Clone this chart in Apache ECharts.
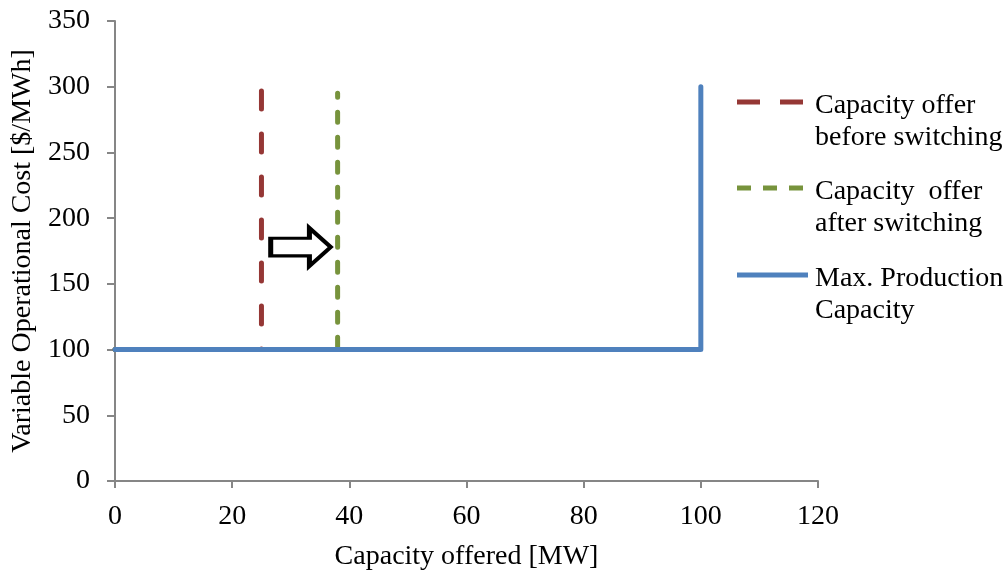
<!DOCTYPE html>
<html><head><meta charset="utf-8">
<script src="https://cdn.jsdelivr.net/npm/echarts@6/dist/echarts.min.js"></script>
<style>html,body{margin:0;padding:0;background:#fff}#c{width:1006px;height:574px}</style>
</head><body><div id="c"></div>
<script>
const xTicks = [0, 20, 40, 60, 80, 100, 120];
const yTicks = [0, 50, 100, 150, 200, 250, 300, 350];
const seriesNames = ['Capacity offer\nbefore switching', 'Capacity  offer\nafter switching', 'Max. Production\nCapacity'];
const beforeSwitching = [[0, 100], [25, 100], [25, 300]];
const afterSwitching = [[0, 100], [38, 100], [38, 295]];
const maxProduction = [[0, 100], [100, 100], [100, 300]];
const arrowPos = [31.7, 178];

const font = 'Liberation Serif';
const legendIcons = [
  'path://M0,0H23V5H0Z M43,0H66V5H43Z M73,0L73,5',
  'path://M0,0H14V5H0Z M26,0H40V5H26Z M52,0H66V5H52Z M73,0L73,5',
  'path://M0,0H71V5H0Z M73,0L73,5'
];
const legendTops = [45, 131, 218];
const chart = echarts.init(document.getElementById('c'));
const legends = seriesNames.map((n, i) => ({
  orient: 'vertical', left: 732, top: legendTops[i], itemWidth: 73, itemHeight: 5, itemGap: 0,
  itemStyle: { borderWidth: 0 },
  data: [{ name: n, icon: legendIcons[i] }],
  formatter: s => '{b| }\n' + s.split('\n').map(l => '{a|' + l + '}').join('\n'),
  textStyle: {
    fontFamily: font, fontSize: 28, color: '#000', lineHeight: 32,
    rich: {
      a: { fontFamily: font, fontSize: 28, color: '#000', lineHeight: 32 },
      b: { fontFamily: font, fontSize: 28, color: '#000', lineHeight: 40 }
    }
  }
}));
chart.setOption({
  animation: false,
  grid: { left: 115, right: 188, top: 21, bottom: 93, containLabel: false, outerBoundsMode: 'none' },
  legend: legends,
  xAxis: {
    type: 'value', min: xTicks[0], max: xTicks[xTicks.length - 1], interval: 20,
    name: 'Capacity offered [MW]', nameLocation: 'middle', nameGap: 62,
    nameTextStyle: { fontFamily: font, fontSize: 28, color: '#000' },
    axisLine: { show: true, lineStyle: { color: '#868686', width: 2 } },
    axisTick: { show: true, inside: false, length: 7, lineStyle: { color: '#868686', width: 2 } },
    axisLabel: { fontFamily: font, fontSize: 28, color: '#000', margin: 22 },
    splitLine: { show: false }
  },
  yAxis: {
    type: 'value', min: yTicks[0], max: yTicks[yTicks.length - 1], interval: 50,
    name: 'Variable Operational Cost [$/MWh]', nameLocation: 'middle', nameGap: 71,
    nameTextStyle: { fontFamily: font, fontSize: 28, color: '#000' },
    axisLine: { show: true, lineStyle: { color: '#868686', width: 2 } },
    axisTick: { show: true, inside: false, length: 8, lineStyle: { color: '#868686', width: 2 } },
    axisLabel: { fontFamily: font, fontSize: 28, color: '#000', margin: 25 },
    splitLine: { show: false }
  },
  series: [
    {
      name: seriesNames[0], type: 'line', data: beforeSwitching, symbol: 'none', z: 2,
      lineStyle: { color: '#953735', width: 5, type: [18, 25], cap: 'round' },
      itemStyle: { color: '#953735' },
      markPoint: {
        symbol: 'path://M0,11 L40,11 L40,0 L62,20.5 L40,41 L40,30 L0,30 Z',
        symbolSize: [60, 38], symbolKeepAspect: false,
        itemStyle: { color: '#fff', borderColor: '#000', borderWidth: 4 },
        label: { show: false },
        data: [{ coord: arrowPos }]
      }
    },
    {
      name: seriesNames[1], type: 'line', data: afterSwitching, symbol: 'none', z: 2,
      lineStyle: { color: '#77933C', width: 5, type: [10, 15], cap: 'round' },
      itemStyle: { color: '#77933C' }
    },
    {
      name: seriesNames[2], type: 'line', data: maxProduction, symbol: 'none', z: 3,
      lineStyle: { color: '#4F81BD', width: 5, cap: 'round', join: 'round' },
      itemStyle: { color: '#4F81BD' }
    }
  ]
});
</script></body></html>
